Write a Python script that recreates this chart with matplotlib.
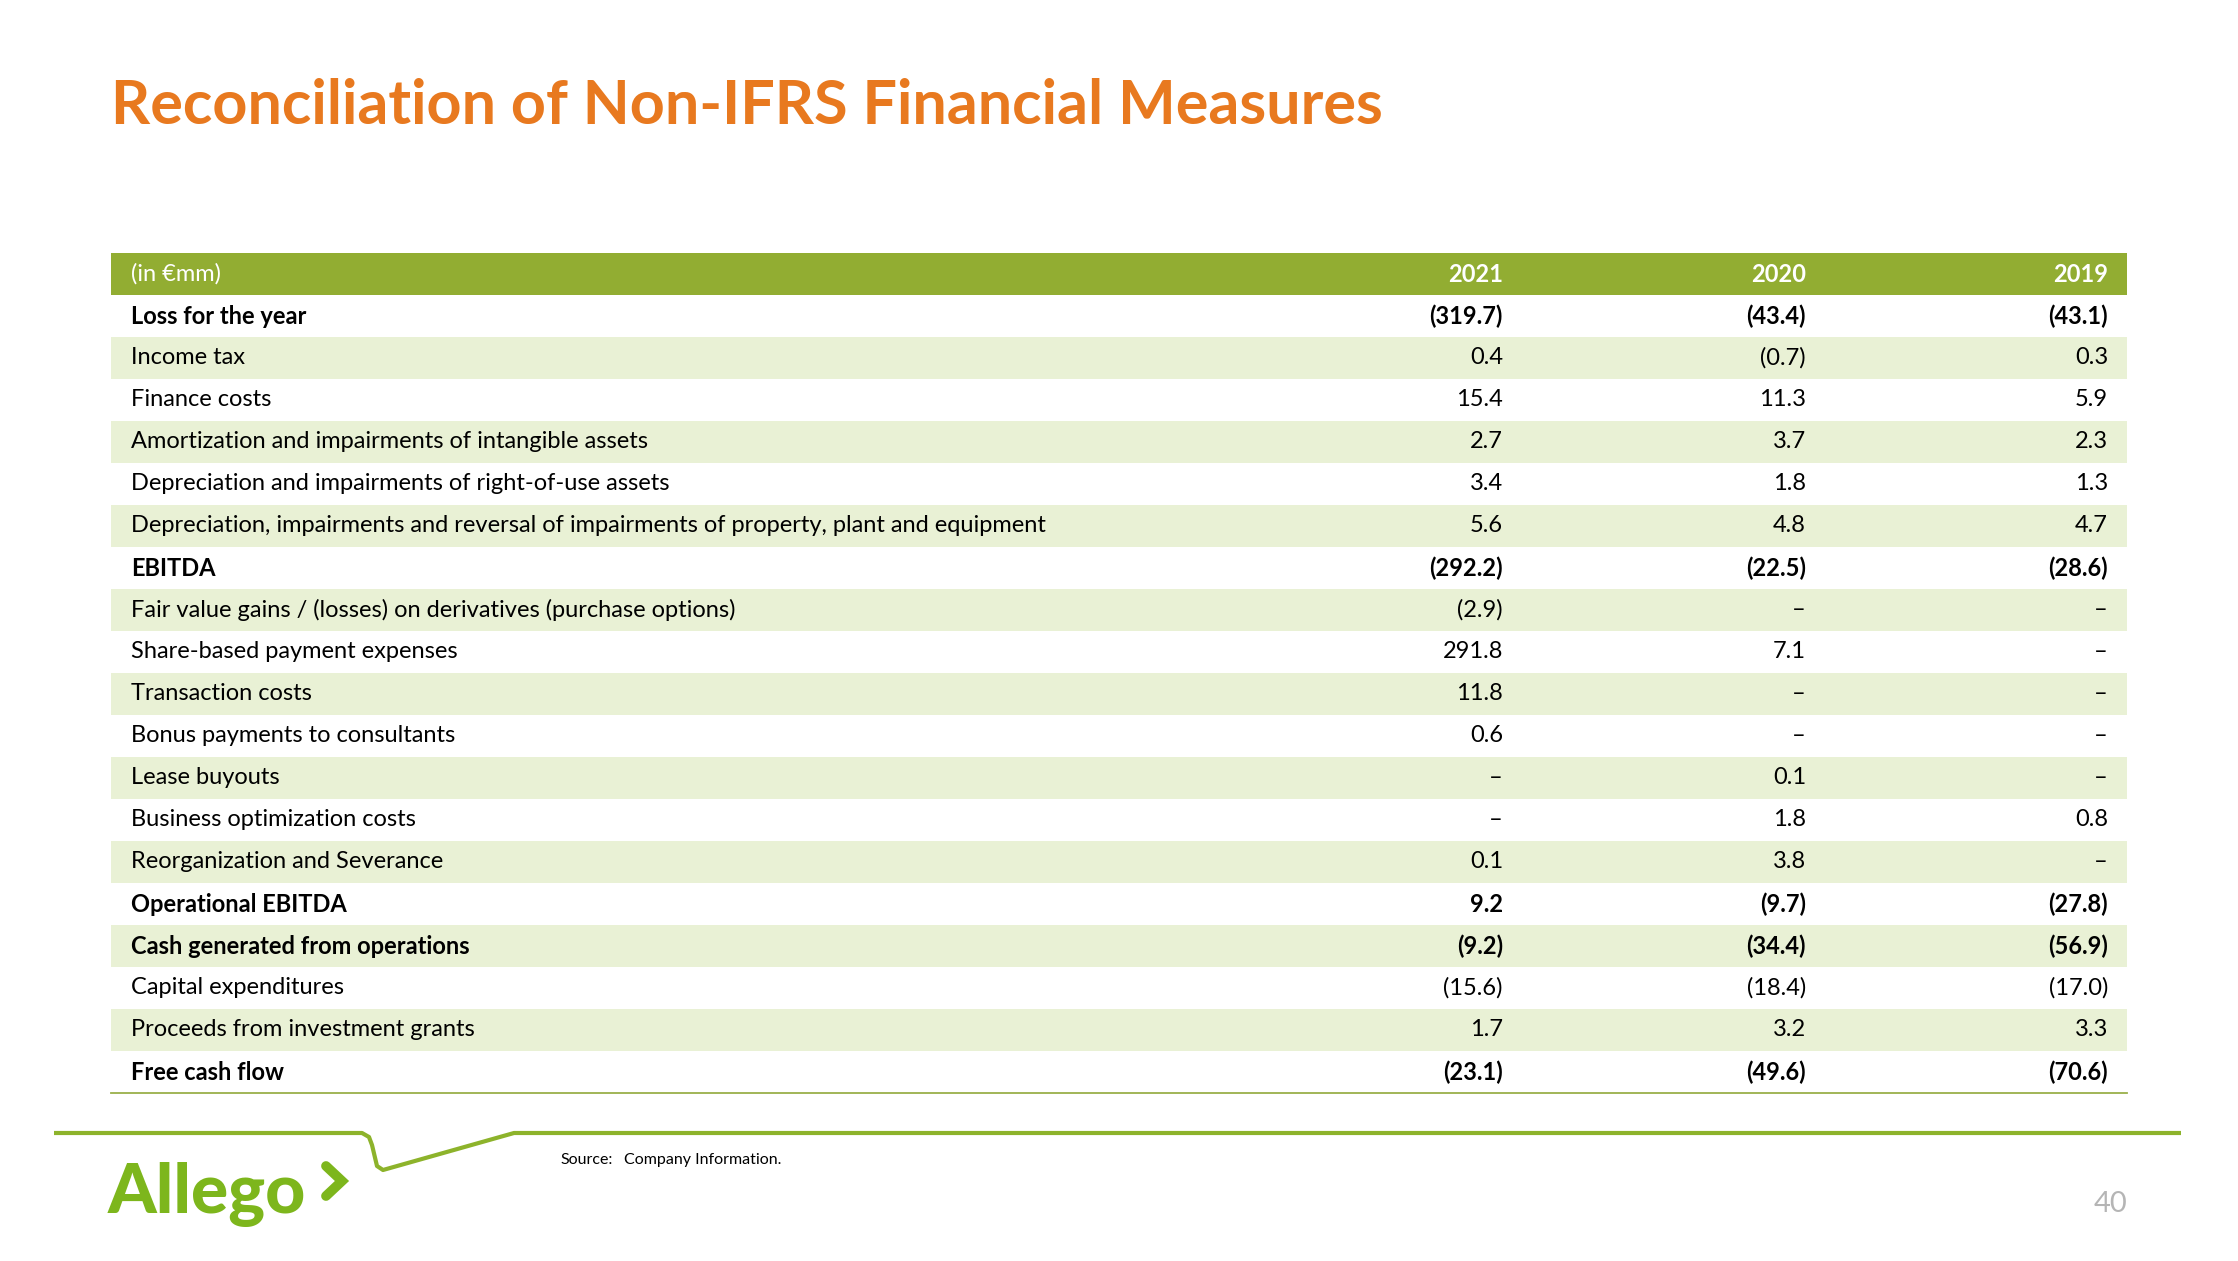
import matplotlib.pyplot as plt
from matplotlib.patches import Rectangle

plt.rcParams["font.family"] = ["Lato", "DejaVu Sans"]

title = "Reconciliation of Non-IFRS Financial Measures"
unit_label = "(in €mm)"
years = ["2021", "2020", "2019"]

row_labels = [
    "Loss for the year",
    "Income tax",
    "Finance costs",
    "Amortization and impairments of intangible assets",
    "Depreciation and impairments of right-of-use assets",
    "Depreciation, impairments and reversal of impairments of property, plant and equipment",
    "EBITDA",
    "Fair value gains / (losses) on derivatives (purchase options)",
    "Share-based payment expenses",
    "Transaction costs",
    "Bonus payments to consultants",
    "Lease buyouts",
    "Business optimization costs",
    "Reorganization and Severance",
    "Operational EBITDA",
    "Cash generated from operations",
    "Capital expenditures",
    "Proceeds from investment grants",
    "Free cash flow",
]
bold_rows = {"Loss for the year", "EBITDA", "Operational EBITDA",
             "Cash generated from operations", "Free cash flow"}

# None = no amount ("–")
values_2021 = [-319.7, 0.4, 15.4, 2.7, 3.4, 5.6, -292.2, -2.9, 291.8, 11.8, 0.6,
               None, None, 0.1, 9.2, -9.2, -15.6, 1.7, -23.1]
values_2020 = [-43.4, -0.7, 11.3, 3.7, 1.8, 4.8, -22.5, None, 7.1, None, None,
               0.1, 1.8, 3.8, -9.7, -34.4, -18.4, 3.2, -49.6]
values_2019 = [-43.1, 0.3, 5.9, 2.3, 1.3, 4.7, -28.6, None, None, None, None,
               None, 0.8, None, -27.8, -56.9, -17.0, 3.3, -70.6]

source_note = "Company Information."
page_number = "40"

ORANGE = "#E8791F"
HEADER_GREEN = "#92AD32"
STRIPE = "#E9F1D5"
LINE_GREEN = "#8DB32B"
LOGO_GREEN = "#7DB61C"


def fmt(v):
    if v is None:
        return "–"
    if v < 0:
        return f"({abs(v):.1f})"
    return f"{v:.1f}"


W, H = 2238, 1261
fig = plt.figure(figsize=(W / 100, H / 100), dpi=100)
ax = fig.add_axes([0, 0, 1, 1])
ax.set_xlim(0, W)
ax.set_ylim(H, 0)
ax.axis("off")

ax.text(111, 124, title, color=ORANGE, fontsize=44, fontweight="bold",
        va="baseline", ha="left")

# table geometry
left, right = 111, 2127
top, row_h = 253, 42
label_x = 131
col_right = [1503, 1806, 2108]
body_fs = 17

ax.add_patch(Rectangle((left, top), right - left, row_h, color=HEADER_GREEN, lw=0))
ax.text(label_x, top + row_h / 2, unit_label, color="white", fontsize=body_fs,
        va="center", ha="left")
for x, yr in zip(col_right, years):
    ax.text(x, top + row_h / 2, yr, color="white", fontsize=body_fs,
            fontweight="bold", va="center", ha="right")

columns = [values_2021, values_2020, values_2019]
for i, label in enumerate(row_labels):
    y0 = top + row_h * (i + 1)
    yc = y0 + row_h / 2
    if i % 2 == 1:
        ax.add_patch(Rectangle((left, y0), right - left, row_h, color=STRIPE, lw=0))
    weight = "bold" if label in bold_rows else "normal"
    ax.text(label_x, yc, label, color="black", fontsize=body_fs, fontweight=weight,
            va="center", ha="left")
    for x, col in zip(col_right, columns):
        ax.text(x, yc, fmt(col[i]), color="black", fontsize=body_fs,
                fontweight=weight, va="center", ha="right")

bottom = top + row_h * (len(row_labels) + 1)
ax.plot([left, right], [bottom, bottom], color="#9AB04A", lw=1.3)

# footer swoosh line
fx = [54, 362, 369, 372, 377, 383, 514, 2181]
fy = [1133, 1133, 1137, 1145, 1166, 1170, 1133, 1133]
ax.plot(fx, fy, color=LINE_GREEN, lw=3, solid_joinstyle="round",
        solid_capstyle="butt")

# logo
ax.text(108, 1213, "Allego", color=LOGO_GREEN, fontsize=50, fontweight="black",
        va="baseline", ha="left")
ax.plot([326, 342, 326], [1166, 1181, 1196], color=LOGO_GREEN, lw=7,
        solid_capstyle="round", solid_joinstyle="miter")

ax.text(560, 1160, "Source:", fontsize=11.5, va="center", ha="left")
ax.text(624, 1160, source_note, fontsize=11.5, va="center", ha="left")
ax.text(2127, 1204, page_number, color="#B5B5B5", fontsize=21, va="center",
        ha="right")

fig.savefig("out.png", dpi=100)
